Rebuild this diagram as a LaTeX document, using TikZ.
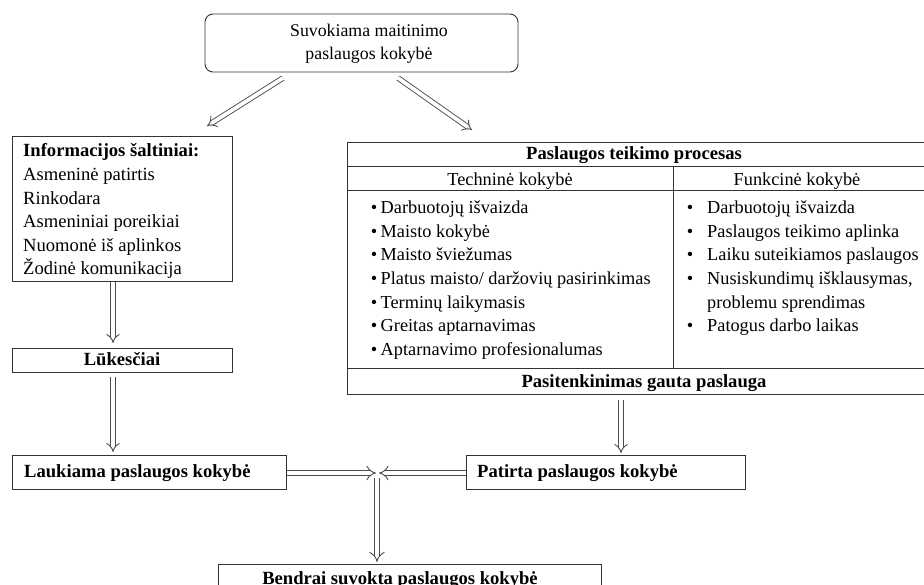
\documentclass[tikz,border=0pt]{standalone}
\usepackage{fontspec}
\setmainfont{Liberation Serif}
\usetikzlibrary{arrows.meta}
\begin{document}
\begin{tikzpicture}[x=1pt,y=-1pt,
  box/.style={draw=black!80, line width=0.9pt, inner sep=0pt},
  tline/.style={draw=black!80, line width=0.9pt},
  dbl/.style={draw=black!70, double=white, double distance=#1, line width=0.9pt, -{Implies}},
  dbl/.default=3.8pt,
  ttxt/.style={inner sep=0pt, anchor=base, font=\fontsize{18.3}{24}\selectfont},
  itxt/.style={inner sep=0pt, anchor=base west, font=\fontsize{18.6}{24}\selectfont},
  btxt/.style={inner sep=0pt, anchor=base, font=\fontsize{18.6}{24}\selectfont\bfseries},
]
\useasboundingbox[fill=white] (0,0) rectangle (924,585);

% top box
\node[box, rounded corners=8pt, minimum width=313pt, minimum height=58pt] (top) at (361.5,43) {};
\node[ttxt, font=\fontsize{17.8}{24}\selectfont] (top1) at (369,37) {Suvokiama maitinimo};
\node[ttxt, font=\fontsize{17.8}{24}\selectfont] (top2) at (369,60) {paslaugos kokybė};

% information box
\node[box, minimum width=220pt, minimum height=145pt, anchor=north west] (info) at (12,136) {};
\node[btxt, anchor=base west] (infoh) at (23,157) {Informacijos šaltiniai:};
\foreach \t [count=\i] in {Asmeninė patirtis, Rinkodara, Asmeniniai poreikiai, Nuomonė iš aplinkos, Žodinė komunikacija}
  \node[itxt] (info\i) at (23,157+23.6*\i) {\t};

% expectations
\node[box, minimum width=220pt, minimum height=24pt, anchor=north west] (luk) at (12,348) {};
\node[btxt] (lukt) at (122,366) {Lūkesčiai};

% expected quality
\node[box, minimum width=274pt, minimum height=34pt, anchor=north west] (lauk) at (12,455) {};
\node[btxt, anchor=base west] (laukt) at (24,477) {Laukiama paslaugos kokybė};

% experienced quality
\node[box, minimum width=279pt, minimum height=34pt, anchor=north west] (pat) at (466,455) {};
\node[btxt, anchor=base west] (patt) at (477,477) {Patirta paslaugos kokybė};

% overall quality
\node[box, minimum width=383pt, minimum height=40pt, anchor=north west] (bend) at (218,564) {};
\node[btxt] (bendt) at (400,584) {Bendrai suvokta paslaugos kokybė};

% process table
\node[box, minimum width=582pt, minimum height=252pt, anchor=north west] (tab) at (347,142) {};
\draw[tline] (347,166) -- (930,166);
\draw[tline] (347,190) -- (930,190);
\draw[tline] (347,368) -- (930,368);
\draw[tline] (673,166) -- (673,368);
\node[btxt] (tabh) at (634,160) {Paslaugos teikimo procesas};
\node[ttxt] (tech) at (510,186) {Techninė kokybė};
\node[ttxt] (func) at (797,186) {Funkcinė kokybė};
\foreach \t [count=\i] in {Darbuotojų išvaizda, Maisto kokybė, Maisto šviežumas,
    Platus maisto/ daržovių pasirinkimas, Terminų laikymasis, Greitas aptarnavimas,
    Aptarnavimo profesionalumas}{
  \node[ttxt] (lb\i) at (374,189.8+23.7*\i) {•};
  \node[ttxt, anchor=base west] (lt\i) at (380.5,189.8+23.7*\i) {\t};
}
\foreach \t/\b [count=\i] in {Darbuotojų išvaizda/1, Paslaugos teikimo aplinka/1,
    Laiku suteikiamos paslaugos/1, {Nusiskundimų išklausymas,}/1, problemu sprendimas/0,
    Patogus darbo laikas/1}{
  \ifnum\b=1 \node[ttxt] (rb\i) at (690,189.8+23.7*\i) {•};\fi
  \node[ttxt, anchor=base west] (rt\i) at (707,189.8+23.7*\i) {\t};
}
\node[btxt] (sat) at (644,388) {Pasitenkinimas gauta paslauga};

% arrows
\coordinate (a1s) at (283,78);
\coordinate (a1e) at (207,126);
\coordinate (a2s) at (398,78);
\coordinate (a2e) at (472,130);
\draw[dbl] (a1s) -- (a1e);
\draw[dbl] (a2s) -- (a2e);

\coordinate (b1e) at (113,343);
\draw[dbl] (info.south -| b1e) -- (b1e);
\coordinate (b2s) at (113,377);
\coordinate (b2e) at (113,452);
\draw[dbl] (b2s) -- (b2e);
\coordinate (b3s) at (621,400);
\coordinate (b3e) at (621,453);
\draw[dbl] (b3s) -- (b3e);

\coordinate (mL) at (376,473);
\coordinate (mR) at (379,473);
\draw[dbl=4.2pt] (lauk.east |- mL) -- (mL);
\draw[dbl=4.2pt] (pat.west |- mR) -- (mR);
\coordinate (m0) at (377,478);
\draw[dbl=4.5pt] (m0) -- ([yshift=2pt]bend.north -| m0);
\end{tikzpicture}
\end{document}
